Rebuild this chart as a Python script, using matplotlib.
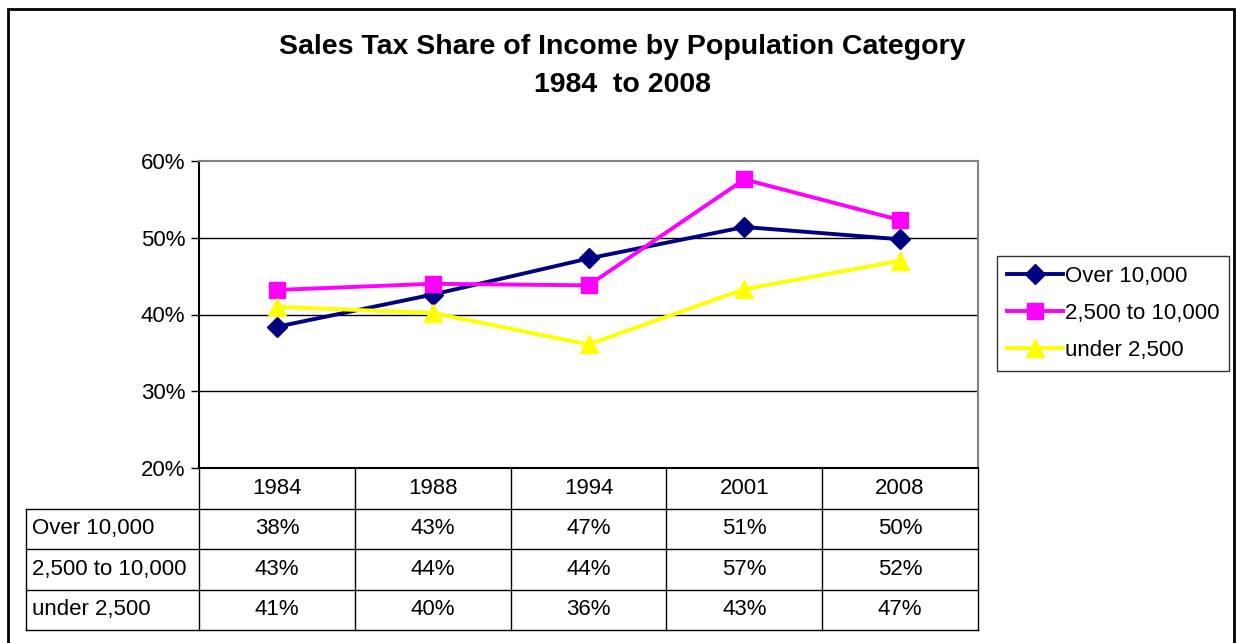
import matplotlib
matplotlib.use('Agg')
import matplotlib.pyplot as plt
import matplotlib.transforms as mtransforms
from matplotlib.patches import Rectangle

plt.rcParams['font.family'] = ['Liberation Sans', 'DejaVu Sans']

# -------------------------------------------
# data
years = ['1984', '1988', '1994', '2001', '2008']
series_names = ['Over 10,000', '2,500 to 10,000', 'under 2,500']
over_10000 = [38.4, 42.6, 47.3, 51.4, 49.8]
mid_2500_10000 = [43.2, 44.0, 43.8, 57.6, 52.3]
under_2500 = [41.0, 40.2, 36.1, 43.3, 47.0]
# rounded values shown in the data table
table_over = ['38%', '43%', '47%', '51%', '50%']
table_mid = ['43%', '44%', '44%', '57%', '52%']
table_under = ['41%', '40%', '36%', '43%', '47%']
yticks = [20, 30, 40, 50, 60]

colors = ['#000080', '#FF00FF', '#FFFF00']
markers = ['D', 's', '^']
msizes = [10, 11, 13]
fs = 16

W, H = 1236, 643
fig = plt.figure(figsize=(W / 100, H / 100), dpi=100)

# outer chart border (bottom edge runs off the picture)
fig.patches.append(Rectangle((8 / W, -0.05), (1234 - 8) / W, 1.05 - 9 / H,
                             transform=fig.transFigure, fill=False,
                             edgecolor='black', linewidth=2))

# title
fig.text(622 / W, 1 - 47 / H, 'Sales Tax Share of Income by Population Category',
         ha='center', va='center', fontsize=20.5, fontweight='bold')
fig.text(622 / W, 1 - 85 / H, '1984  to 2008',
         ha='center', va='center', fontsize=20.5, fontweight='bold')

# plot area
left, right, top, bottom = 199, 978, 161, 468
ax = fig.add_axes([left / W, 1 - bottom / H, (right - left) / W, (bottom - top) / H])
x = list(range(len(years)))
all_series = [over_10000, mid_2500_10000, under_2500]
for vals, name, c, m, ms in zip(all_series, series_names, colors, markers, msizes):
    ax.plot(x, vals, color=c, marker=m, markersize=ms, linewidth=2.8,
            label=name, clip_on=False, zorder=3)

ax.set_xlim(-0.5, len(years) - 0.5)
ax.set_ylim(20, 60)
ax.set_yticks(yticks)
ax.set_yticklabels(['%d%%' % v for v in yticks], fontsize=fs)
ax.set_xticks([])
ax.tick_params(axis='y', direction='out', length=6, width=1, pad=4)
for v in yticks[1:-1]:
    ax.axhline(v, color='black', linewidth=1, zorder=1)
ax.spines['left'].set_color('black')
ax.spines['bottom'].set_color('black')
ax.spines['top'].set_color('#808080')
ax.spines['right'].set_color('#808080')
for s in ax.spines.values():
    s.set_linewidth(1.5)

# data table under the plot: x in data units, y in axes units
trans = mtransforms.blended_transform_factory(ax.transData, ax.transAxes)
row_h = 40.5 / (bottom - top)
label_left = -0.5 - (left - 26) / ((right - left) / len(years))
n_rows = len(series_names)
table_rows = [table_over, table_mid, table_under]
line_kw = dict(color='black', linewidth=1, transform=trans, clip_on=False)

y_bottom = -row_h * (n_rows + 1)
# vertical lines of the year columns
for i in range(len(years) + 1):
    ax.plot([i - 0.5, i - 0.5], [0, y_bottom], **line_kw)
# left edge of the row labels
ax.plot([label_left, label_left], [-row_h, y_bottom], **line_kw)
# horizontal lines
for r in range(1, n_rows + 2):
    ax.plot([label_left, len(years) - 0.5], [-row_h * r, -row_h * r], **line_kw)

for i, yr in enumerate(years):
    ax.text(i, -row_h * 0.5, yr, ha='center', va='center', fontsize=fs,
            transform=trans)
for r, (name, row) in enumerate(zip(series_names, table_rows)):
    yc = -row_h * (r + 1.5)
    ax.text(label_left + 0.04, yc, name, ha='left', va='center', fontsize=fs,
            transform=trans)
    for i, txt in enumerate(row):
        ax.text(i, yc, txt, ha='center', va='center', fontsize=fs,
                transform=trans)

# legend
leg = fig.legend(loc='upper left', bbox_to_anchor=(997 / W, 1 - 256 / H),
                 fontsize=fs, frameon=True, fancybox=False, edgecolor='black',
                 handlelength=2.5, handletextpad=0.1, borderpad=0.45,
                 labelspacing=0.72, borderaxespad=0)
leg.get_frame().set_linewidth(1)

fig.savefig('out.png', dpi=100)
